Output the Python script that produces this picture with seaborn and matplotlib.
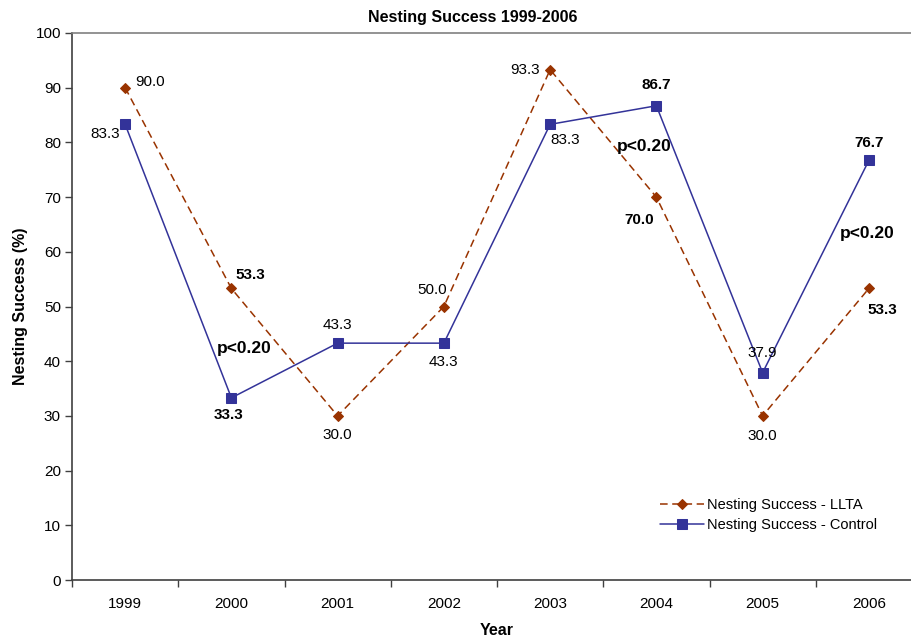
import numpy as np
import pandas as pd
import matplotlib
matplotlib.use("Agg")
import matplotlib.pyplot as plt
import seaborn as sns

# data
years = ["1999", "2000", "2001", "2002", "2003", "2004", "2005", "2006"]
llta = [90.0, 53.3, 30.0, 50.0, 93.3, 70.0, 30.0, 53.3]
control = [83.3, 33.3, 43.3, 43.3, 83.3, 86.7, 37.9, 76.7]

# label offsets (pixels) and bold flags
llta_off = [(25, 6), (19, 13), (0, -19), (-12, 17), (-25, 0), (-17, -23), (0, -20), (13, -22)]
llta_bold = [False, True, False, False, False, True, False, True]
ctrl_off = [(-20, -10), (-3, -17), (0, 18), (0, -19), (15, -16), (0, 21), (0, 20), (0, 17)]
ctrl_bold = [False, True, False, False, False, True, False, True]

p_labels = ["p<0.20", "p<0.20", "p<0.20"]
p_x = [1.12, 4.89, 6.98]
p_y = [42.4, 79.3, 63.4]

c_llta = "#993300"
c_ctrl = "#333399"

sns.set_style("white")
plt.rcParams["font.family"] = ["Liberation Sans", "DejaVu Sans"]
plt.rcParams["text.color"] = "black"
plt.rcParams["axes.labelcolor"] = "black"
plt.rcParams["xtick.color"] = "black"
plt.rcParams["ytick.color"] = "black"

pos = np.arange(len(years))
df = pd.DataFrame({"pos": pos, "llta": llta, "control": control})

fig = plt.figure(figsize=(9.11, 6.39), dpi=100)
ax = fig.add_axes([72 / 911, 59 / 639, 850 / 911, 547 / 639])

sns.lineplot(data=df, x="pos", y="llta", ax=ax, color=c_llta, linestyle="--",
             marker="D", markersize=5, markeredgecolor=c_llta, linewidth=1.1,
             label="Nesting Success - LLTA")
sns.lineplot(data=df, x="pos", y="control", ax=ax, color=c_ctrl,
             marker="s", markersize=6.5, markeredgecolor=c_ctrl, linewidth=1.1,
             label="Nesting Success - Control")
ax.lines[0].set_dashes([5, 3])

for i, v in enumerate(llta):
    ax.annotate(f"{v:.1f}", (pos[i], v), xytext=llta_off[i], textcoords="offset pixels",
                ha="center", va="center", fontsize=11,
                fontweight="bold" if llta_bold[i] else "normal")
for i, v in enumerate(control):
    ax.annotate(f"{v:.1f}", (pos[i], v), xytext=ctrl_off[i], textcoords="offset pixels",
                ha="center", va="center", fontsize=11,
                fontweight="bold" if ctrl_bold[i] else "normal")
for t, x, y in zip(p_labels, p_x, p_y):
    ax.text(x, y, t, ha="center", va="center", fontsize=12.5, fontweight="bold")

ax.set_xlim(-0.5, len(years) - 0.5)
ax.set_ylim(0, 100)
ax.set_yticks(range(0, 101, 10))
ax.set_xticks(pos)
ax.set_xticklabels(years)
ax.set_xticks(np.arange(-0.5, len(years)), minor=True)
ax.tick_params(axis="x", which="major", length=0, pad=12, labelsize=11)
ax.tick_params(axis="x", which="minor", length=5, width=1, color="#404040", direction="out")
ax.tick_params(axis="y", length=5, width=1, color="#404040", direction="out", labelsize=11, pad=3)
ax.xaxis.set_tick_params(bottom=True, which="both")
ax.yaxis.set_tick_params(left=True)

ax.set_xlabel("Year", fontsize=11.5, fontweight="bold", labelpad=9)
ax.set_ylabel("Nesting Success (%)", fontsize=11.5, fontweight="bold", labelpad=5)
ax.set_title("Nesting Success 1999-2006", fontsize=11.5, fontweight="bold", pad=8, x=(473 - 72) / 850)

for s in ["left", "bottom"]:
    ax.spines[s].set_color("#404040")
    ax.spines[s].set_linewidth(1.2)
ax.spines["top"].set_color("#808080")
ax.spines["top"].set_linewidth(1.2)
ax.spines["right"].set_visible(False)

ax.legend(loc="lower right", bbox_to_anchor=(890 / 911, 94 / 639), bbox_transform=fig.transFigure,
          frameon=False, fontsize=10.5, handlelength=3.0, handletextpad=0.2, labelspacing=0.4)

fig.savefig("out.png", dpi=100)
